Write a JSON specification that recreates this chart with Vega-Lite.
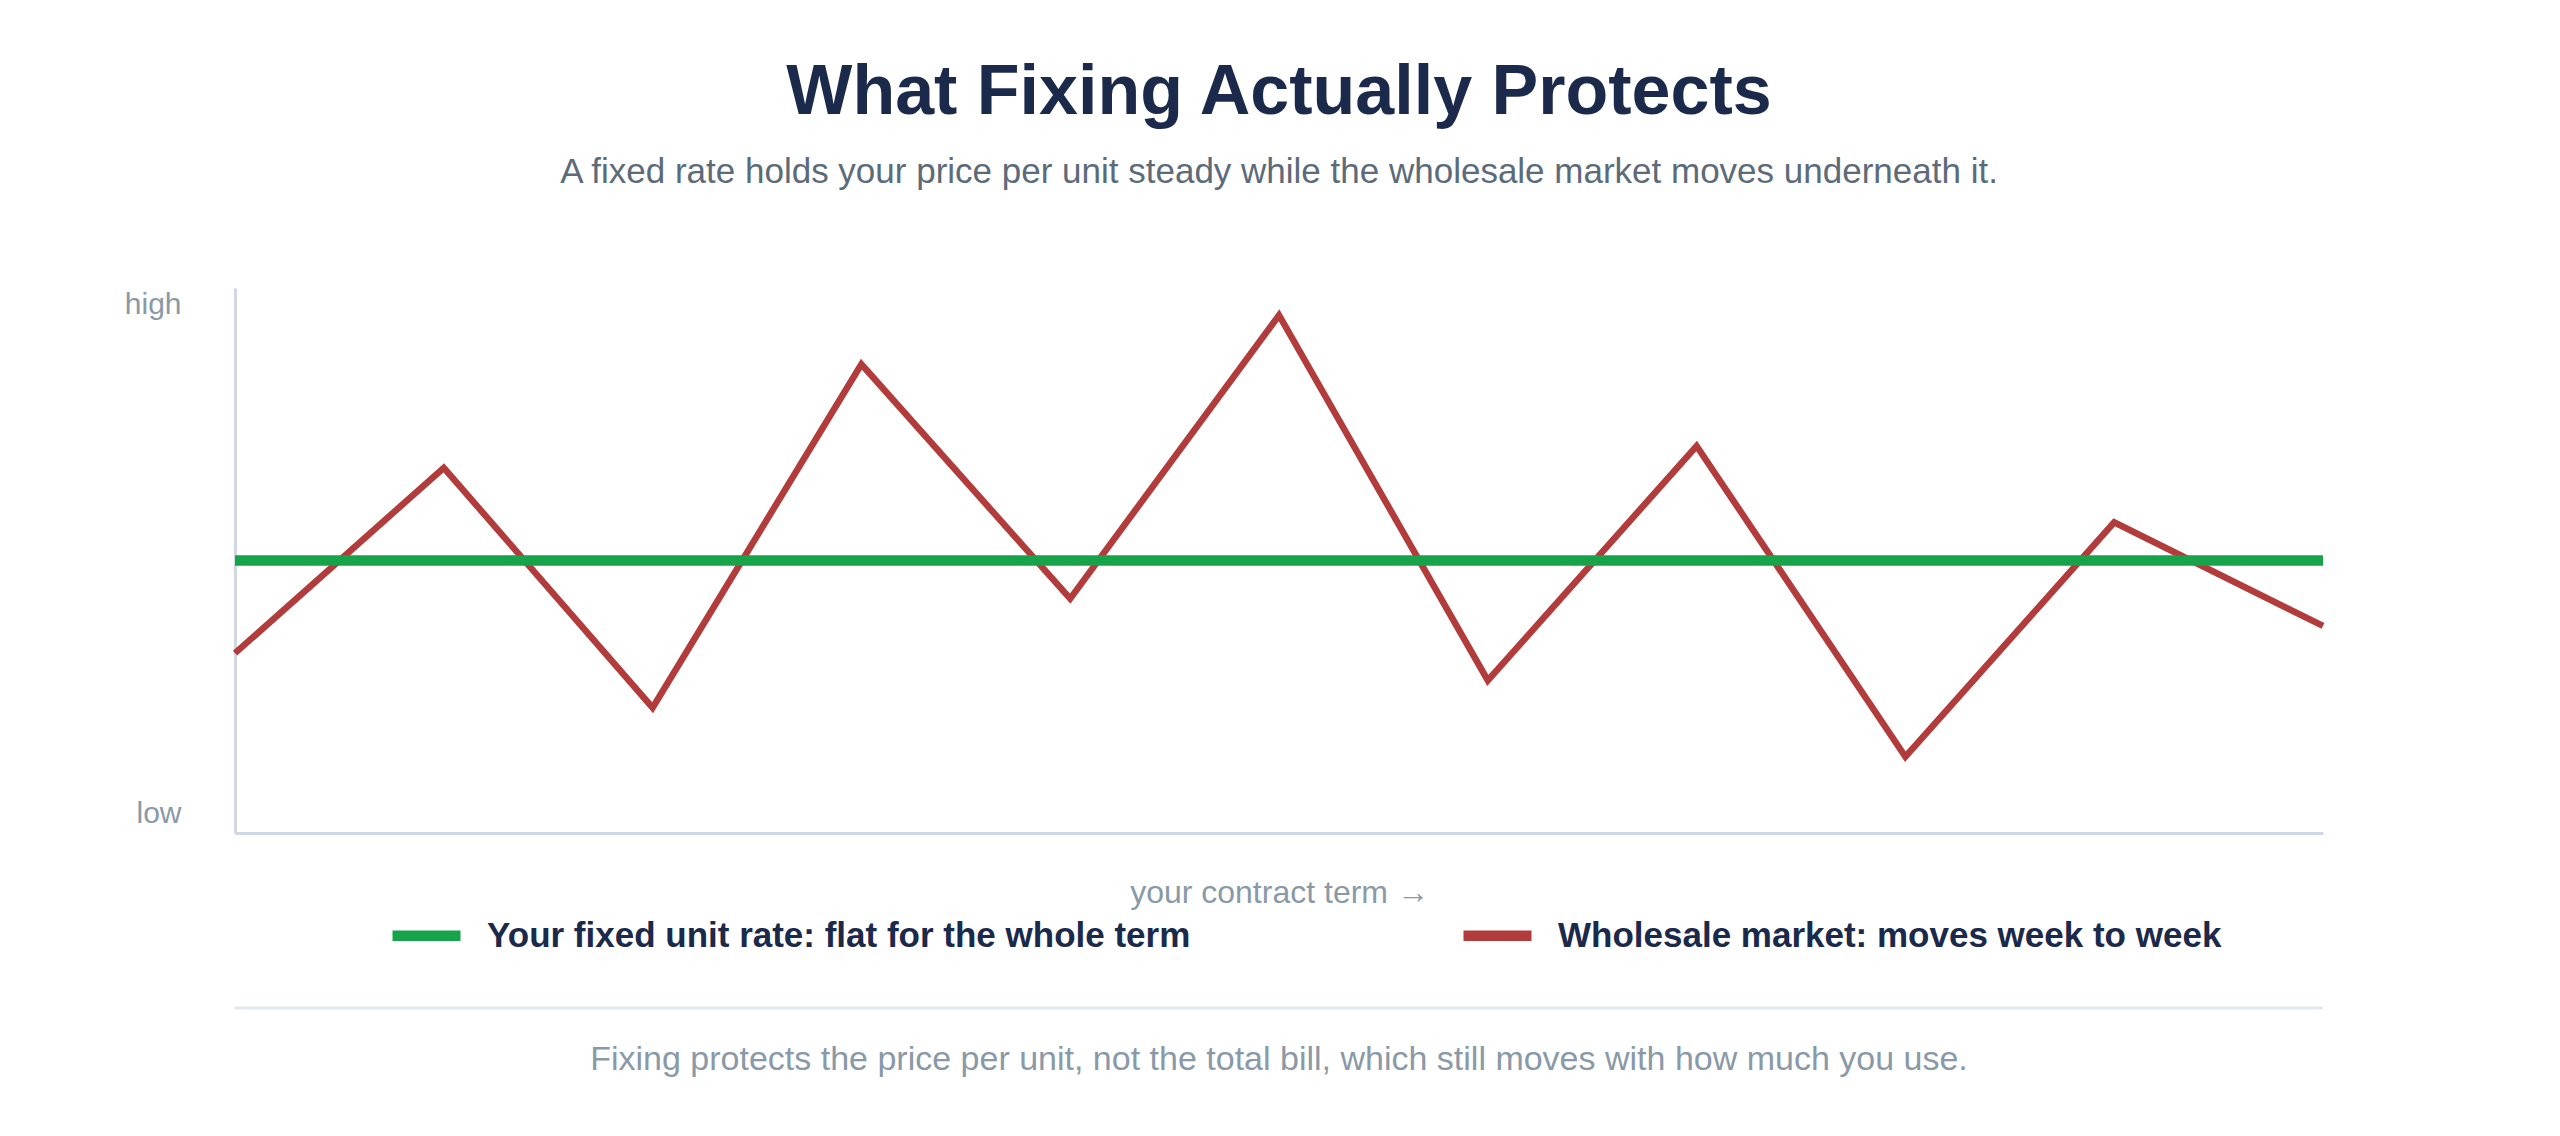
{
  "$schema": "https://vega.github.io/schema/vega-lite/v6.json",
  "description": "Fixed unit rate versus the wholesale market over a contract term",
  "autosize": {"type": "none"},
  "padding": {"left": 235, "top": 288, "right": 237, "bottom": 303},
  "width": 2088,
  "height": 545,
  "background": "#ffffff",
  "title": {
    "text": "What Fixing Actually Protects",
    "subtitle": "A fixed rate holds your price per unit steady while the wholesale market moves underneath it.",
    "anchor": "middle",
    "frame": "group",
    "font": "Liberation Sans",
    "fontSize": 70,
    "fontWeight": "bold",
    "color": "#1b2a4a",
    "subtitleFont": "Liberation Sans",
    "subtitleFontSize": 35,
    "subtitleColor": "#5c6b7a",
    "subtitlePadding": 26,
    "offset": 97
  },
  "config": {
    "view": {"stroke": null},
    "font": "Liberation Sans"
  },
  "datasets": {
    "term": [
      {"week": 0, "series": "Wholesale market: moves week to week", "value": 33},
      {"week": 1, "series": "Wholesale market: moves week to week", "value": 67},
      {"week": 2, "series": "Wholesale market: moves week to week", "value": 23},
      {"week": 3, "series": "Wholesale market: moves week to week", "value": 86},
      {"week": 4, "series": "Wholesale market: moves week to week", "value": 43},
      {"week": 5, "series": "Wholesale market: moves week to week", "value": 95},
      {"week": 6, "series": "Wholesale market: moves week to week", "value": 28},
      {"week": 7, "series": "Wholesale market: moves week to week", "value": 71},
      {"week": 8, "series": "Wholesale market: moves week to week", "value": 14},
      {"week": 9, "series": "Wholesale market: moves week to week", "value": 57},
      {"week": 10, "series": "Wholesale market: moves week to week", "value": 38},
      {"week": 0, "series": "Your fixed unit rate: flat for the whole term", "value": 50},
      {"week": 1, "series": "Your fixed unit rate: flat for the whole term", "value": 50},
      {"week": 2, "series": "Your fixed unit rate: flat for the whole term", "value": 50},
      {"week": 3, "series": "Your fixed unit rate: flat for the whole term", "value": 50},
      {"week": 4, "series": "Your fixed unit rate: flat for the whole term", "value": 50},
      {"week": 5, "series": "Your fixed unit rate: flat for the whole term", "value": 50},
      {"week": 6, "series": "Your fixed unit rate: flat for the whole term", "value": 50},
      {"week": 7, "series": "Your fixed unit rate: flat for the whole term", "value": 50},
      {"week": 8, "series": "Your fixed unit rate: flat for the whole term", "value": 50},
      {"week": 9, "series": "Your fixed unit rate: flat for the whole term", "value": 50},
      {"week": 10, "series": "Your fixed unit rate: flat for the whole term", "value": 50}
    ],
    "note": [
      {"note": "Fixing protects the price per unit, not the total bill, which still moves with how much you use."}
    ]
  },
  "layer": [
    {
      "data": {"name": "term"},
      "transform": [{"filter": "datum.series === 'Wholesale market: moves week to week'"}],
      "mark": {"type": "line", "strokeWidth": 6.5, "strokeJoin": "miter", "clip": false},
      "encoding": {
        "x": {
          "field": "week",
          "type": "quantitative",
          "scale": {"domain": [0, 10], "nice": false},
          "axis": {
            "title": "your contract term →",
            "titleFont": "Liberation Sans",
            "titleFontSize": 32,
            "titleFontWeight": "normal",
            "titleColor": "#8a99a8",
            "titlePadding": 44,
            "labels": false,
            "ticks": false,
            "grid": false,
            "domainColor": "#cfd8e3",
            "domainWidth": 3
          }
        },
        "y": {
          "field": "value",
          "type": "quantitative",
          "scale": {"domain": [0, 100], "nice": false, "zero": false},
          "axis": {
            "title": null,
            "values": [2, 95.4],
            "labelExpr": "datum.value > 50 ? 'high' : 'low'",
            "labelFont": "Liberation Sans",
            "labelFontSize": 30,
            "labelColor": "#8a99a8",
            "labelBaseline": "alphabetic",
            "labelPadding": 54,
            "ticks": false,
            "grid": false,
            "domainColor": "#cfd8e3",
            "domainWidth": 3
          }
        },
        "color": {
          "field": "series",
          "type": "nominal",
          "scale": {
            "domain": ["Your fixed unit rate: flat for the whole term", "Wholesale market: moves week to week"],
            "range": ["#17a34a", "#b23b3b"]
          },
          "legend": {
            "title": null,
            "orient": "none",
            "legendX": 152,
            "legendY": 608,
            "direction": "horizontal",
            "columnPadding": 251,
            "padding": 0,
            "symbolType": "stroke",
            "symbolSize": 4624,
            "symbolStrokeWidth": 10.5,
            "labelOffset": 21,
            "labelFont": "Liberation Sans",
            "labelFontSize": 35,
            "labelFontWeight": "bold",
            "labelColor": "#1b2a4a",
            "labelLimit": 1200
          }
        }
      }
    },
    {
      "data": {"name": "term"},
      "transform": [{"filter": "datum.series === 'Your fixed unit rate: flat for the whole term'"}],
      "mark": {"type": "line", "strokeWidth": 10.5, "clip": false},
      "encoding": {
        "x": {"field": "week", "type": "quantitative"},
        "y": {"field": "value", "type": "quantitative"},
        "color": {"field": "series", "type": "nominal"}
      }
    },
    {
      "data": {"name": "note"},
      "mark": {"type": "rule", "color": "#e2e8f0", "strokeWidth": 3, "clip": false},
      "encoding": {
        "x": {"datum": 0},
        "x2": {"datum": 10},
        "y": {"datum": -32.1}
      }
    },
    {
      "data": {"name": "note"},
      "mark": {
        "type": "text",
        "font": "Liberation Sans",
        "fontSize": 34,
        "color": "#8a99a8",
        "align": "center",
        "baseline": "middle",
        "clip": false
      },
      "encoding": {
        "x": {"datum": 5},
        "y": {"datum": -41.6},
        "text": {"field": "note"}
      }
    }
  ]
}
